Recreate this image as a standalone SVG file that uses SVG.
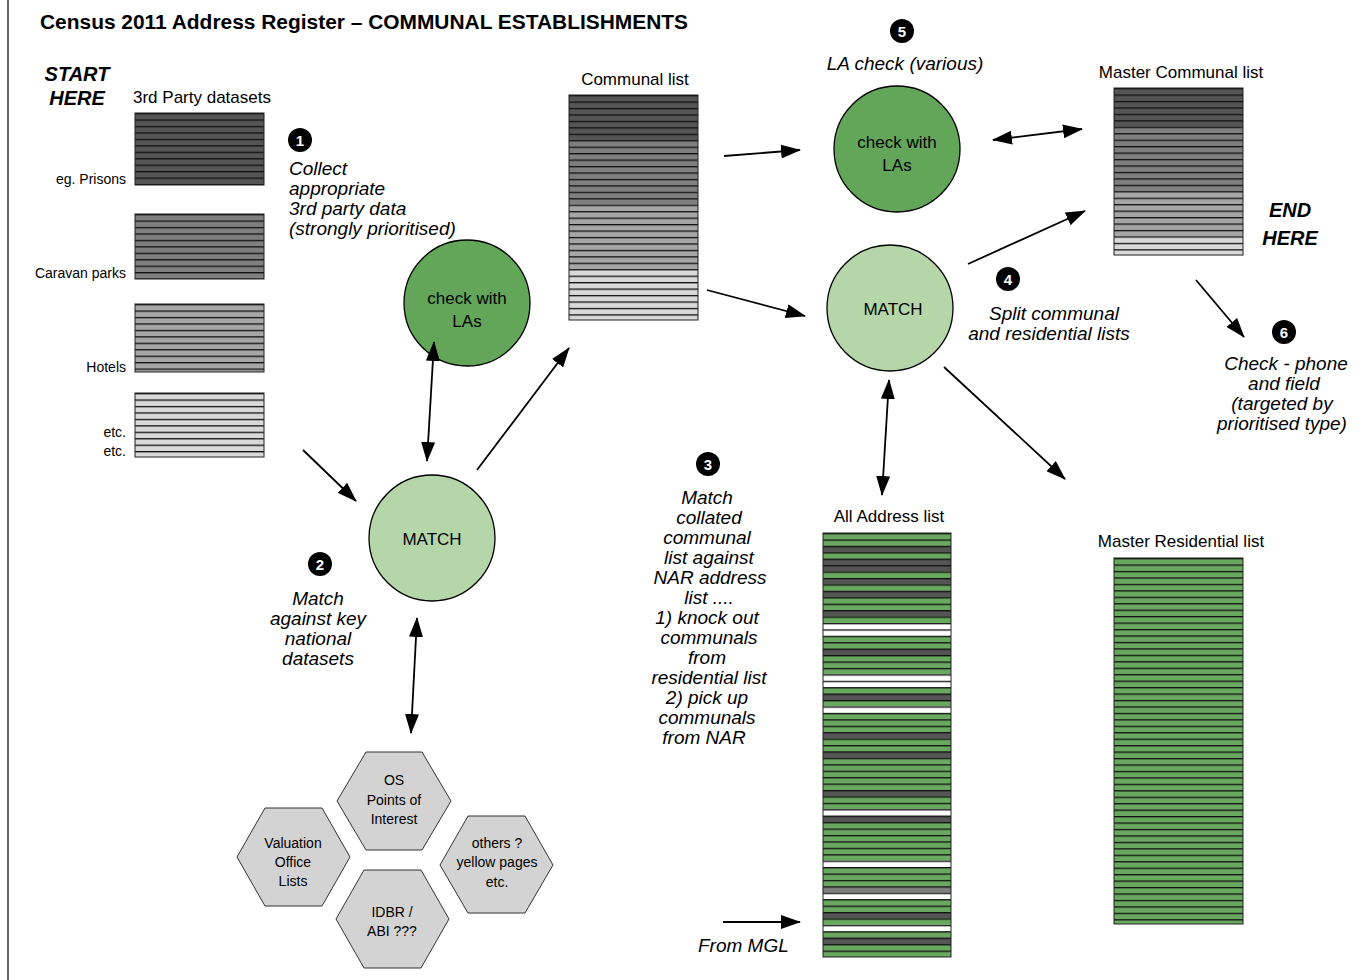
<svg xmlns="http://www.w3.org/2000/svg" width="1370" height="980" viewBox="0 0 1370 980">
<style>
text{font-family:"Liberation Sans",Arial,sans-serif;fill:#000}
.t{font-size:17px}
.s{font-size:14px}
.hx{font-size:14px;text-anchor:middle}
.it{font-size:19px;font-style:italic}
.c{text-anchor:middle}
.bi{font-size:20px;font-weight:bold;font-style:italic}
.num{font-size:15px;font-weight:bold;fill:#fff;text-anchor:middle}
.dot{fill:#000}
.box{fill:none;stroke:#222;stroke-width:1}
.lines{fill:url(#ln)}
.lines2{fill:url(#ln2)}
.cg{fill:#63a65a;stroke:#000;stroke-width:1.3}
.cl{fill:#b5d6a9;stroke:#000;stroke-width:1.3}
.hex{fill:#d3d3d3;stroke:#333;stroke-width:1}
.ar{fill:none;stroke:#000;stroke-width:1.8}
</style>
<defs>
<pattern id="ln" patternUnits="userSpaceOnUse" width="300" height="6.45"><rect width="300" height="1.3" fill="#111"/></pattern>
<pattern id="ln2" patternUnits="userSpaceOnUse" width="300" height="6.424"><rect width="300" height="1.3" fill="#111"/></pattern>
<marker id="ah" markerUnits="userSpaceOnUse" markerWidth="20" markerHeight="14" viewBox="0 0 20 14" refX="19" refY="7" orient="auto-start-reverse"><path d="M0,0 L20,7 L0,14 z" fill="#000"/></marker>
</defs>
<rect width="1370" height="980" fill="#fff"/>
<line x1="8" y1="0" x2="8" y2="980" stroke="#000" stroke-width="1.2"/>

<text x="40" y="29" font-size="20" font-weight="bold" textLength="648" lengthAdjust="spacingAndGlyphs">Census 2011 Address Register – COMMUNAL ESTABLISHMENTS</text>

<g id="start">
<text class="bi" x="77" y="81" text-anchor="middle">START</text>
<text class="bi" x="77" y="105" text-anchor="middle">HERE</text>
</g>

<g id="datasets">
<text class="t" x="133" y="103">3rd Party datasets</text>
<g transform="translate(135,113)"><rect width="129" height="72" fill="#555"/><rect width="129" height="72" class="lines"/><rect width="129" height="72" class="box"/></g>
<g transform="translate(135,214)"><rect width="129" height="65" fill="#7f7f7f"/><rect width="129" height="65" class="lines"/><rect width="129" height="65" class="box"/></g>
<g transform="translate(135,304)"><rect width="129" height="68" fill="#a6a6a6"/><rect width="129" height="68" class="lines"/><rect width="129" height="68" class="box"/></g>
<g transform="translate(135,393)"><rect width="129" height="64" fill="#d9d9d9"/><rect width="129" height="64" class="lines"/><rect width="129" height="64" class="box"/></g>
<text class="s" x="126" y="184" text-anchor="end">eg. Prisons</text>
<text class="s" x="126" y="278" text-anchor="end">Caravan parks</text>
<text class="s" x="126" y="372" text-anchor="end">Hotels</text>
<text class="s" x="126" y="437" text-anchor="end">etc.</text>
<text class="s" x="126" y="456" text-anchor="end">etc.</text>
</g>

<g id="step1">
<circle class="dot" cx="300" cy="140" r="12"/><text class="num" x="300" y="145.5">1</text>
<text class="it" x="289" y="175">Collect</text>
<text class="it" x="289" y="195">appropriate</text>
<text class="it" x="289" y="215">3rd party data</text>
<text class="it" x="289" y="235">(strongly prioritised)</text>
</g>

<g id="checkLA1">
<circle class="cg" cx="467" cy="303" r="63"/>
<text class="t c" x="467" y="304">check with</text>
<text class="t c" x="467" y="327">LAs</text>
</g>

<g id="match1">
<circle class="cl" cx="432" cy="538" r="63"/>
<text class="t c" x="432" y="545">MATCH</text>
</g>

<g id="step2">
<circle class="dot" cx="320" cy="564" r="12"/><text class="num" x="320" y="569.5">2</text>
<text class="it c" x="318" y="605">Match</text>
<text class="it c" x="318" y="625">against key</text>
<text class="it c" x="318" y="645">national</text>
<text class="it c" x="318" y="665">datasets</text>
</g>

<g id="hexes">
<g id="hexOS"><polygon class="hex" points="337,801 366,752 422,752 451,801 422,850 366,850"/>
<text class="hx" x="394" y="785">OS</text><text class="hx" x="394" y="805">Points of</text><text class="hx" x="394" y="824">Interest</text></g>
<g id="hexVO"><polygon class="hex" points="237,857 265,808 322,808 350,857 322,906 265,906"/>
<text class="hx" x="293" y="848">Valuation</text><text class="hx" x="293" y="867">Office</text><text class="hx" x="293" y="886">Lists</text></g>
<g id="hexIDBR"><polygon class="hex" points="336,919 364,870 421,870 449,919 421,968 364,968"/>
<text class="hx" x="392" y="917">IDBR /</text><text class="hx" x="392" y="936">ABI ???</text></g>
<g id="hexOther"><polygon class="hex" points="440,865 468,816 525,816 553,865 525,913 468,913"/>
<text class="hx" x="497" y="848">others ?</text><text class="hx" x="497" y="867">yellow pages</text><text class="hx" x="497" y="887">etc.</text></g>
</g>

<g id="communal">
<text class="t c" x="635" y="85">Communal list</text>
<g transform="translate(569,95)">
<rect width="129" height="46" fill="#555"/>
<rect y="45" width="129" height="65" fill="#7f7f7f"/>
<rect y="109.5" width="129" height="65" fill="#a6a6a6"/>
<rect y="174" width="129" height="51" fill="#d9d9d9"/>
<rect width="129" height="225" class="lines"/><rect width="129" height="225" class="box"/>
</g>
</g>

<g id="step5">
<circle class="dot" cx="902" cy="31" r="12"/><text class="num" x="902" y="36.5">5</text>
<text class="it c" x="905" y="70">LA check (various)</text>
</g>

<g id="checkLA2">
<circle class="cg" cx="897" cy="149" r="63"/>
<text class="t c" x="897" y="148">check with</text>
<text class="t c" x="897" y="171">LAs</text>
</g>

<g id="masterCommunal">
<text class="t c" x="1181" y="78">Master Communal list</text>
<g transform="translate(1114,88)">
<rect width="129" height="39" fill="#555"/>
<rect y="38.7" width="129" height="65" fill="#7f7f7f"/>
<rect y="103.2" width="129" height="45.5" fill="#a6a6a6"/>
<rect y="148.35" width="129" height="19" fill="#d9d9d9"/>
<rect width="129" height="167" class="lines"/><rect width="129" height="167" class="box"/>
</g>
</g>

<g id="end">
<text class="bi" x="1290" y="217" text-anchor="middle">END</text>
<text class="bi" x="1290" y="245" text-anchor="middle">HERE</text>
</g>

<g id="match2">
<circle class="cl" cx="890" cy="308" r="63"/>
<text class="t c" x="893" y="315">MATCH</text>
</g>

<g id="step4">
<circle class="dot" cx="1008" cy="279" r="12"/><text class="num" x="1008" y="284.5">4</text>
<text class="it c" x="1054" y="320">Split communal</text>
<text class="it c" x="1049" y="340">and residential lists</text>
</g>

<g id="step6">
<circle class="dot" cx="1284" cy="332" r="12"/><text class="num" x="1284" y="337.5">6</text>
<text class="it c" x="1286" y="370">Check - phone</text>
<text class="it c" x="1284" y="390">and field</text>
<text class="it c" x="1282" y="410">(targeted by</text>
<text class="it c" x="1282" y="430">prioritised type)</text>
</g>

<g id="step3">
<circle class="dot" cx="708" cy="464" r="12"/><text class="num" x="708" y="469.5">3</text>
<text class="it c" x="707" y="504">Match</text>
<text class="it c" x="709" y="524">collated</text>
<text class="it c" x="707" y="544">communal</text>
<text class="it c" x="709" y="564">list against</text>
<text class="it c" x="710" y="584">NAR address</text>
<text class="it c" x="709" y="604">list ....</text>
<text class="it c" x="707" y="624">1) knock out</text>
<text class="it c" x="709" y="644">communals</text>
<text class="it c" x="707" y="664">from</text>
<text class="it c" x="709" y="684">residential list</text>
<text class="it c" x="707" y="704">2) pick up</text>
<text class="it c" x="707" y="724">communals</text>
<text class="it c" x="704" y="744">from NAR</text>
</g>

<g id="allAddress">
<text class="t c" x="889" y="522">All Address list</text>
<g transform="translate(823,533)">
<rect width="128" height="424" fill="#69a85f"/>
<g fill="#555">
<rect y="12.85" width="128" height="6.43"/><rect y="25.7" width="128" height="12.85"/><rect y="44.97" width="128" height="6.43"/><rect y="57.82" width="128" height="6.43"/><rect y="77.09" width="128" height="6.43"/><rect y="115.6" width="128" height="6.43"/><rect y="160.6" width="128" height="6.43"/><rect y="199.1" width="128" height="6.43"/><rect y="218.4" width="128" height="6.43"/><rect y="256.96" width="128" height="6.43"/><rect y="282.66" width="128" height="6.43"/><rect y="378.98" width="128" height="6.43"/><rect y="404.7" width="128" height="6.43"/>
</g>
<g fill="#fff">
<rect y="89.94" width="128" height="12.85"/><rect y="141.3" width="128" height="12.85"/><rect y="173.45" width="128" height="6.43"/><rect y="276.23" width="128" height="6.43"/><rect y="327.6" width="128" height="6.43"/><rect y="359.7" width="128" height="6.43"/><rect y="391.8" width="128" height="6.43"/>
</g>
<rect y="353.3" width="128" height="6.43" fill="#7f7f7f"/>
<rect width="128" height="424" class="lines2"/><rect width="128" height="424" class="box"/>
</g>
</g>

<g id="masterResidential">
<text class="t c" x="1181" y="547">Master Residential list</text>
<g transform="translate(1114,558)">
<rect width="129" height="366" fill="#69a85f"/>
<rect width="129" height="366" class="lines"/><rect width="129" height="366" class="box"/>
</g>
</g>

<text class="it" x="698" y="952" font-size="19">From MGL</text>

<g id="connectors">
<line class="ar" x1="303" y1="450" x2="356" y2="501" marker-end="url(#ah)"/>
<line class="ar" x1="427" y1="461" x2="434" y2="342" marker-start="url(#ah)" marker-end="url(#ah)"/>
<line class="ar" x1="477" y1="470" x2="569" y2="348" marker-end="url(#ah)"/>
<line class="ar" x1="417" y1="618" x2="411" y2="733" marker-start="url(#ah)" marker-end="url(#ah)"/>
<line class="ar" x1="724" y1="156" x2="800" y2="150" marker-end="url(#ah)"/>
<line class="ar" x1="707" y1="290" x2="805" y2="316" marker-end="url(#ah)"/>
<line class="ar" x1="993" y1="140" x2="1082" y2="129" marker-start="url(#ah)" marker-end="url(#ah)"/>
<line class="ar" x1="968" y1="264" x2="1085" y2="211" marker-end="url(#ah)"/>
<line class="ar" x1="1196" y1="280" x2="1244" y2="337" marker-end="url(#ah)"/>
<line class="ar" x1="889" y1="380" x2="882" y2="495" marker-start="url(#ah)" marker-end="url(#ah)"/>
<line class="ar" x1="944" y1="367" x2="1065" y2="479" marker-end="url(#ah)"/>
<line class="ar" x1="723" y1="922" x2="800" y2="922" marker-end="url(#ah)"/>
</g>
</svg>
